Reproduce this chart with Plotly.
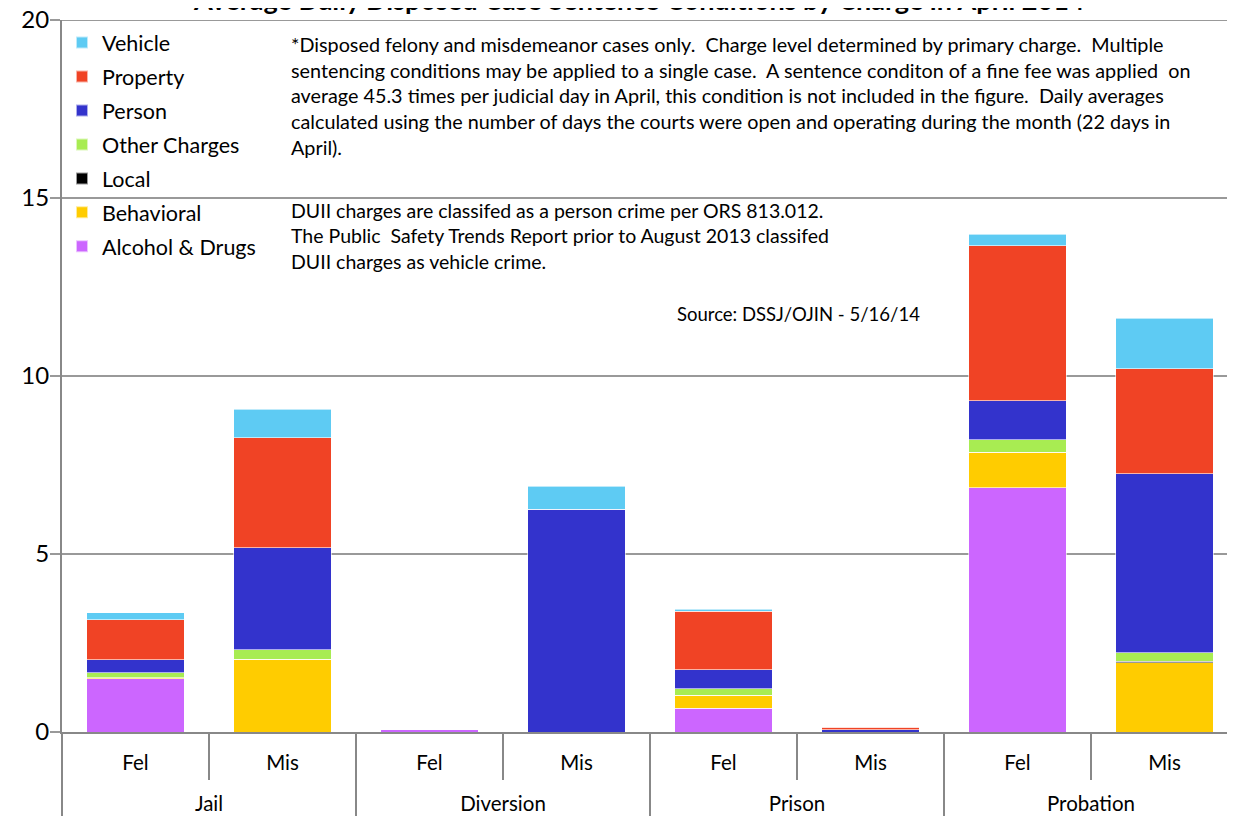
import plotly.graph_objects as go

groups = ["Jail", "Jail", "Diversion", "Diversion", "Prison", "Prison", "Probation", "Probation"]
levels = ["Fel", "Mis", "Fel", "Mis", "Fel", "Mis", "Fel", "Mis"]

alcohol_drugs = [1.49, 0.0, 0.08, 0.0, 0.67, 0.0, 6.86, 0.0]
behavioral = [0.04, 2.04, 0.0, 0.0, 0.36, 0.0, 1.00, 1.94]
local = [0.0, 0.0, 0.0, 0.0, 0.0, 0.0, 0.0, 0.05]
other_charges = [0.14, 0.27, 0.0, 0.0, 0.18, 0.0, 0.35, 0.23]
person = [0.36, 2.87, 0.0, 6.26, 0.54, 0.07, 1.10, 5.04]
property_ = [1.13, 3.08, 0.0, 0.0, 1.64, 0.06, 4.35, 2.95]
vehicle = [0.19, 0.81, 0.0, 0.65, 0.06, 0.0, 0.32, 1.41]

y_ticks = [0, 5, 10, 15, 20]

series = [
    ("Alcohol & Drugs", alcohol_drugs, "#CC66FF"),
    ("Behavioral", behavioral, "#FFCC00"),
    ("Local", local, "#000000"),
    ("Other Charges", other_charges, "#A8EC52"),
    ("Person", person, "#3333CC"),
    ("Property", property_, "#F04325"),
    ("Vehicle", vehicle, "#5ECBF3"),
]

FONT = "Lato, 'Noto Sans', sans-serif"

# group labels get a leading blank line so they sit lower, like the reference
group_labels = ["<br>" + g for g in groups]

fig = go.Figure()
for i, (name, vals, color) in enumerate(series):
    fig.add_trace(go.Bar(
        x=[group_labels, levels], y=vals, name=name, legendgroup=name,
        legendrank=len(series) - i,
        marker=dict(color=color, line=dict(color="rgba(255,255,255,0.6)", width=1)),
    ))

fig.update_layout(
    width=1235, height=821,
    barmode="stack", bargap=0.34,
    paper_bgcolor="white", plot_bgcolor="white",
    margin=dict(l=54, r=5, t=12, b=97, autoexpand=False),
    font=dict(family=FONT, color="black"),
    legend=dict(
        x=0.0, y=0.997, xanchor="left", yanchor="top",
        traceorder="grouped", font=dict(size=21.5, family=FONT),
        bgcolor="rgba(0,0,0,0)", itemsizing="constant", tracegroupgap=3,
        itemwidth=30,
    ),
    showlegend=True,
)

fig.add_annotation(
    text="<b>Average Daily Disposed Case Sentence Conditions by Charge in April 2014</b>",
    xref="paper", yref="paper", x=0.4906, y=1.0, xanchor="center", yanchor="middle",
    yshift=21, showarrow=False, font=dict(size=27, family=FONT, color="black"),
)

# top gridline at the axis maximum (plotly drops the grid line at the range edge)
fig.add_shape(type="line", xref="paper", x0=0, x1=1, yref="y", y0=y_ticks[-1], y1=y_ticks[-1],
              line=dict(color="#999999", width=2), layer="below")

fig.update_yaxes(
    range=[0, 20], tickvals=y_ticks, ticks="outside", ticklen=10,
    tickcolor="#999999", tickwidth=2, showgrid=True, gridcolor="#999999", gridwidth=2,
    showline=True, linecolor="#888888", linewidth=2, automargin=False,
    ticklabeloverflow="allow", ticklabelstandoff=-4,
    tickfont=dict(size=24, family=FONT), zeroline=False,
)
fig.update_xaxes(
    type="multicategory", showline=True, linecolor="#888888", linewidth=2,
    ticks="outside", tickson="boundaries", ticklen=46, tickcolor="#888888", tickwidth=2,
    showdividers=True, dividercolor="#888888", dividerwidth=2, automargin=False,
    ticklabelstandoff=11,
    tickfont=dict(size=20.5, family=FONT),
)

note1 = ("*Disposed felony and misdemeanor cases only.  Charge level determined by primary charge.  Multiple<br>"
         "sentencing conditions may be applied to a single case.  A sentence conditon of a fine fee was applied  on<br>"
         "average 45.3 times per judicial day in April, this condition is not included in the figure.  Daily averages<br>"
         "calculated using the number of days the courts were open and operating during the month (22 days in<br>"
         "April).")
note2 = ("DUII charges are classifed as a person crime per ORS 813.012.<br>"
         "The Public  Safety Trends Report prior to August 2013 classifed<br>"
         "DUII charges as vehicle crime.")
note3 = "Source: DSSJ/OJIN - 5/16/14"

fig.add_annotation(text=note1, xref="paper", yref="paper", x=0.193, y=0.986,
                   xanchor="left", yanchor="top", align="left", showarrow=False,
                   font=dict(size=19.8, family=FONT))
fig.add_annotation(text=note2, xref="paper", yref="paper", x=0.193, y=0.752,
                   xanchor="left", yanchor="top", align="left", showarrow=False,
                   font=dict(size=19.5, family=FONT))
fig.add_annotation(text=note3, xref="paper", yref="paper", x=0.521, y=0.605,
                   xanchor="left", yanchor="top", align="left", showarrow=False,
                   font=dict(size=18.5, family=FONT))

fig.write_html("out.html")
